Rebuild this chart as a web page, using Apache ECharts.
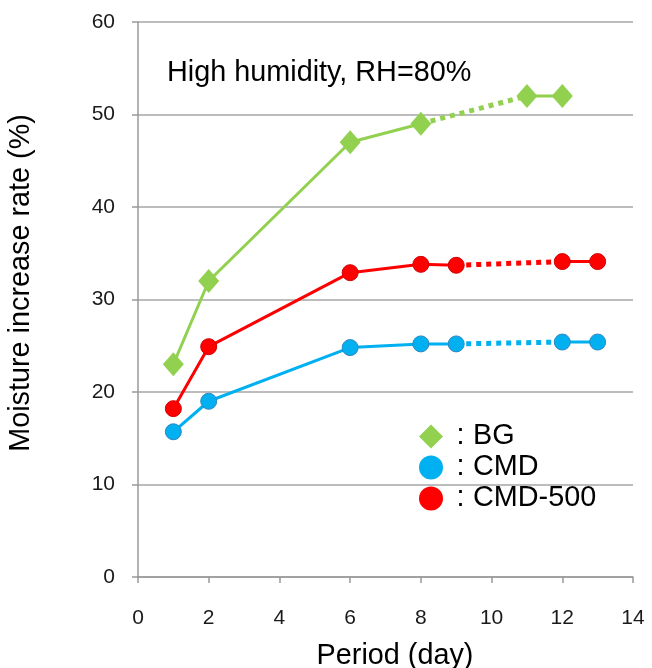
<!DOCTYPE html>
<html><head><meta charset="utf-8">
<script src="https://cdn.jsdelivr.net/npm/echarts@6/dist/echarts.min.js"></script>
<style>html,body{margin:0;padding:0;background:#fff}#c{width:652px;height:668px}</style>
</head><body><div id="c"></div>
<script>
// Data
const bgSolid = [[1,23],[2,32],[6,47],[8,49]];
const bgDotted = [[8,49],[11,52]];
const bgEnd = [[11,52],[12,52]];
const cmdSolid = [[1,15.7],[2,19],[6,24.8],[8,25.2],[9,25.2]];
const cmdDotted = [[9,25.2],[12,25.4]];
const cmdEnd = [[12,25.4],[13,25.4]];
const c500Solid = [[1,18.2],[2,24.9],[6,32.9],[8,33.8],[9,33.7]];
const c500Dotted = [[9,33.7],[12,34.1]];
const c500End = [[12,34.1],[13,34.1]];
const seriesNames = ['BG','CMD','CMD-500'];
const title = 'High humidity, RH=80%';
const xName = 'Period (day)';
const yName = 'Moisture increase rate (%)';

const colors = {BG:'#92D050', CMD:'#00B0F0', 'CMD-500':'#FF0000'};
const borders = {BG:'#92D050', CMD:'#2E86C1', 'CMD-500':'#D00000'};
const symbols = {BG:'diamond', CMD:'circle', 'CMD-500':'circle'};
const sizes = {BG:[21,24], CMD:16, 'CMD-500':16};

function mk(name, data, dotted, showSym){
  return {
    name: name, type:'line', data:data,
    symbol: showSym ? symbols[name] : 'none',
    symbolSize: sizes[name],
    showSymbol: showSym,
    lineStyle:{color:colors[name], width: dotted?5:3, type: dotted?[5,5]:'solid'},
    itemStyle:{color:colors[name], borderColor:borders[name], borderWidth: name==='BG'?0:1},
    z: dotted?2:3, animation:false
  };
}
const series = [
  mk('BG', bgDotted, true, false), mk('BG', bgSolid, false, true), mk('BG', bgEnd, false, true),
  mk('CMD', cmdDotted, true, false), mk('CMD', cmdSolid, false, true), mk('CMD', cmdEnd, false, true),
  mk('CMD-500', c500Dotted, true, false), mk('CMD-500', c500Solid, false, true), mk('CMD-500', c500End, false, true)
];

const bigFont = '28.8px "Liberation Sans"';
const chart = echarts.init(document.getElementById('c'));
const axisFont = {fontFamily:'Liberation Sans', fontSize:21, color:'#1a1a1a'};
chart.setOption({
  animation:false,
  grid:{left:138, right:19, top:22, bottom:91, containLabel:false},
  graphic:[
    {type:'text', left:167, top:59, style:{text:title, font:bigFont, fill:'#000'}},
    {type:'text', x:395, y:656, style:{text:xName, font:bigFont, fill:'#000', textAlign:'center', textVerticalAlign:'middle'}},
    {type:'text', x:21, y:283, rotation:Math.PI/2, style:{text:yName, font:bigFont, fill:'#000', textAlign:'center', textVerticalAlign:'middle'}}
  ],
  legend:{
    data: seriesNames.map(n=>({name:n, icon:symbols[n], itemStyle:{borderWidth:0}})),
    orient:'vertical', left:419, top:421, padding:0, itemWidth:24, itemHeight:24, itemGap:0,
    formatter: n => '{a|:}{b|' + n + '}',
    textStyle:{fontFamily:'Liberation Sans', fontSize:28.8, color:'#000', lineHeight:31,
      rich:{a:{width:25, align:'center', fontSize:28.8, fontFamily:'Liberation Sans', lineHeight:31},
            b:{fontSize:28.8, fontFamily:'Liberation Sans', lineHeight:31}}},
    selectedMode:false
  },
  xAxis:{
    type:'value', min:0, max:14, interval:2,
    axisLine:{show:true, lineStyle:{color:'#999', width:1.5}},
    axisTick:{show:true, length:6, lineStyle:{color:'#999', width:1.5}},
    axisLabel:Object.assign({margin:31}, axisFont),
    splitLine:{show:false}
  },
  yAxis:{
    type:'value', min:0, max:60, interval:10,
    axisLine:{show:true, lineStyle:{color:'#999', width:1.5}},
    axisTick:{show:true, length:6, lineStyle:{color:'#999', width:1.5}},
    axisLabel:Object.assign({margin:23}, axisFont),
    splitLine:{show:true, lineStyle:{color:'#A6A6A6', width:1.5}}
  },
  series: series
});
</script></body></html>
